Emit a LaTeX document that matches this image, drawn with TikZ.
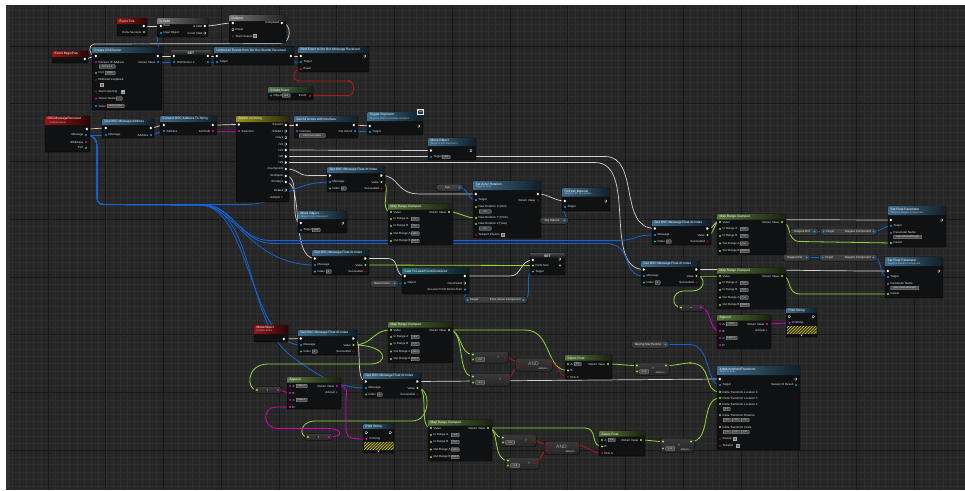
\documentclass[tikz,border=0pt]{standalone}
\usepackage{fontspec}
\setmainfont{Liberation Sans}
\pgfdeclarelayer{bglayer}
\pgfdeclarelayer{wirelayer}
\pgfsetlayers{bglayer,wirelayer,main}
\definecolor{bgc}{RGB}{38,38,38}
\definecolor{gminor}{RGB}{46,46,46}
\definecolor{gmajor}{RGB}{25,25,25}
\definecolor{gstrip}{RGB}{48,48,48}
\definecolor{nodebg}{RGB}{16,17,18}
\definecolor{hblue}{RGB}{62,108,140}
\definecolor{hred}{RGB}{150,22,22}
\definecolor{hgreen}{RGB}{88,120,58}
\definecolor{hgrey}{RGB}{120,120,120}
\definecolor{hyel}{RGB}{150,148,30}
\definecolor{hteal}{RGB}{40,110,120}
\definecolor{hcev}{RGB}{85,120,80}
\definecolor{pblue}{RGB}{0,165,240}
\definecolor{pgreen}{RGB}{155,230,55}
\definecolor{pmag}{RGB}{245,0,205}
\definecolor{pred}{RGB}{175,10,10}
\definecolor{pteal}{RGB}{30,220,170}
\definecolor{ppur}{RGB}{150,90,230}
\definecolor{prot}{RGB}{160,175,255}
\definecolor{pvec}{RGB}{250,200,40}
\definecolor{wexec}{RGB}{210,210,210}
\definecolor{wblue}{RGB}{20,100,215}
\definecolor{wgreen}{RGB}{150,215,55}
\definecolor{wmag}{RGB}{220,0,190}
\definecolor{wred}{RGB}{175,25,25}
\definecolor{txtc}{RGB}{228,228,228}
\definecolor{subc}{RGB}{170,200,220}
\definecolor{hatchy}{RGB}{200,190,30}
\tikzset{
 bpbody/.style={draw=black,fill=nodebg,rounded corners=1.2pt,inner sep=0pt,outer sep=0pt,anchor=north west,line width=0.3pt},
 bptitle/.style={anchor=west,inner sep=0pt,text=white,font=\fontsize{3.2}{3.6}\selectfont},
 bpsub/.style={anchor=west,inner sep=0pt,text=subc,font=\fontsize{2.5}{3}\selectfont},
 ptxt/.style={inner sep=0pt,text=txtc,font=\fontsize{2.9}{3.4}\selectfont},
 valb/.style={draw=gray!60,fill=black!70,inner sep=0.3pt,minimum height=3.4pt,text=txtc,font=\fontsize{2.4}{2.8}\selectfont,rounded corners=0.4pt,line width=0.25pt},
 bpvarst/.style={draw=black,top color=gray!55!black,bottom color=black!80,rounded corners=2.5pt,inner sep=0pt,anchor=north west,minimum height=7pt,line width=0.3pt},
 bpcomp/.style={draw=black,top color=gray!45!black,bottom color=black!85,rounded corners=1.5pt,inner sep=0pt,anchor=north west,line width=0.3pt},
 wx/.style={draw=wexec,line width=0.7pt},
 wb/.style={draw=wblue,line width=0.8pt},
 wg/.style={draw=wgreen,line width=0.8pt},
 wm/.style={draw=wmag,line width=0.8pt},
 wr/.style={draw=wred,line width=0.8pt},
}
% ---------- pin and label helpers
\newcommand\ex[3]{\coordinate (#1) at (#2,#3);\fill[white,shift={(#2,#3)}] (-1.1,-1.2) -- (0.1,-1.2) -- (1.1,0) -- (0.1,1.2) -- (-1.1,1.2) -- cycle;}
\newcommand\exo[3]{\coordinate (#1) at (#2,#3);\draw[white,line width=0.3pt,shift={(#2,#3)}] (-1,-1.1) -- (0.1,-1.1) -- (1,0) -- (0.1,1.1) -- (-1,1.1) -- cycle;}
\newcommand\dpin[4]{\coordinate (#1) at (#2,#3);\fill[#4] (#2,#3) circle (1.05pt);}
\newcommand\dpino[4]{\coordinate (#1) at (#2,#3);\draw[#4,line width=0.35pt] (#2,#3) circle (0.85pt);}
\newcommand\sqpin[4]{\coordinate (#1) at (#2,#3);\fill[#4] (#2-1,#3-1) rectangle (#2+1,#3+1);}
\newcommand\lbl[3]{\node[ptxt,anchor=west] at (#1,#2) {#3};}
\newcommand\lblr[3]{\node[ptxt,anchor=east] at (#1,#2) {#3};}
\newcommand\valbox[4]{\node[valb,anchor=west,minimum width=#3pt] at (#1,#2) {#4};}
\newcommand\chk[2]{\draw[gray!70,fill=black!60,line width=0.3pt] (#1-1.4,#2-1.4) rectangle (#1+1.4,#2+1.4);}
\newcommand\chkd[2]{\chk{#1}{#2}\draw[white,line width=0.35pt] (#1-0.8,#2) -- (#1-0.2,#2+0.7) -- (#1+0.9,#2-0.8);}
\newcommand\bpsubt[3]{\node[bpsub] at (#1,#2) {#3};}
% ---------- node helpers
\newcommand\bpn[8]{%
 \node[bpbody,minimum width=#4pt,minimum height=#5pt] (#1) at (#2,#3) {};
 \shade[left color=#6,right color=#6!28!black,rounded corners=1.2pt] (#2,#3+#8) -- (#2,#3) -- (#2+#4,#3) -- (#2+#4,#3+#8);
 \node[bptitle] at (#2+2.5,#3+3.1) {#7};}
\newcommand\setn[5]{%
 \node[bpbody,minimum width=#4pt,minimum height=#5pt] (#1) at (#2,#3) {};
 \shade[top color=gray!60!black,bottom color=nodebg,rounded corners=1.2pt] (#2,#3+5) -- (#2,#3) -- (#2+#4,#3) -- (#2+#4,#3+5);
 \node[ptxt,font=\fontsize{3.4}{4}\bfseries\selectfont] at (#2+#4/2,#3+3) {SET};}
\newcommand\bpvar[6]{%
 \node[bpvarst,minimum width=#4pt] (#1) at (#2,#3) {};
 \node[ptxt] at (#2+#4/2-2,#3+3.5) {#5};
 \dpin{#1o}{#2+#4-3.5}{#3+3.5}{#6}}
\newcommand\bpget[5]{%
 \node[bpvarst,minimum width=#4pt] (#1) at (#2,#3) {};
 \dpin{#1i}{#2+3.5}{#3+3.5}{pblue}\lbl{#2+6}{#3+3.5}{Target}
 \lblr{#2+#4-6}{#3+3.5}{#5}
 \dpin{#1o}{#2+#4-3.5}{#3+3.5}{pblue}}
\newcommand\getf[5]{%
 \bpn{#1}{#2}{#3}{#4}{25}{hblue}{Get OSC Message Float At Index}{6}
 \ex{#1in}{#2+3}{#3+8.5}\ex{#1out}{#2+#4-3.5}{#3+8.5}
 \dpin{#1msg}{#2+3}{#3+15}{pblue}\lbl{#2+5.5}{#3+15}{Message}
 \dpino{#1idx}{#2+3}{#3+21.5}{pteal}\lbl{#2+5.5}{#3+21.5}{Index}\valbox{#2+14}{#3+21.5}{5}{#5}
 \dpin{#1val}{#2+#4-3.5}{#3+15}{pgreen}\lblr{#2+#4-6}{#3+15}{Value}
 \dpino{#1ok}{#2+#4-3.5}{#3+21.5}{pred}\lblr{#2+#4-6}{#3+21.5}{Succeeded}}
\newcommand\mapr[8]{%
 \bpn{#1}{#2}{#3}{#4}{41}{hgreen}{Map Range Clamped}{5.5}
 \dpin{#1v}{#2+3}{#3+8}{pgreen}\lbl{#2+5.5}{#3+8}{Value}
 \dpino{#1a}{#2+3}{#3+15}{pgreen}\lbl{#2+5.5}{#3+15}{In Range A}\valbox{#2+23}{#3+15}{8}{#5}
 \dpino{#1b}{#2+3}{#3+22}{pgreen}\lbl{#2+5.5}{#3+22}{In Range B}\valbox{#2+23}{#3+22}{8}{#6}
 \dpino{#1c}{#2+3}{#3+29.5}{pgreen}\lbl{#2+5.5}{#3+29.5}{Out Range A}\valbox{#2+23}{#3+29.5}{8}{#7}
 \dpino{#1d}{#2+3}{#3+37}{pgreen}\lbl{#2+5.5}{#3+37}{Out Range B}\valbox{#2+23}{#3+37}{8}{#8}
 \dpin{#1r}{#2+#4-4}{#3+8}{pgreen}\lblr{#2+#4-6.5}{#3+8}{Return Value}}
\newcommand\setfp[5]{%
 \bpn{#1}{#2}{#3}{#4}{41}{hblue}{Set Float Parameter}{9}
 \bpsubt{#2+2.5}{#3+6.8}{Target is Niagara Component}
 \ex{#1in}{#2+3}{#3+14}\exo{#1out}{#2+#4-4}{#3+14}
 \dpin{#1tgt}{#2+3}{#3+20}{pblue}\lbl{#2+5.5}{#3+20}{Target}
 \dpino{#1pn}{#2+3}{#3+27}{ppur}\lbl{#2+5.5}{#3+26.5}{Parameter Name}\valbox{#2+5.5}{#3+31}{28}{#5}
 \dpin{#1par}{#2+3}{#3+37}{pgreen}\lbl{#2+5.5}{#3+37}{Param}}
\newcommand\hatchbar[4]{%
 \begin{scope}
 \clip (#1,#2) rectangle (#1+#3,#2+#4);
 \fill[hatchy] (#1,#2) rectangle (#1+#3,#2+#4);
 \foreach \k in {0,...,15}{\fill[black!85] (#1-#4+\k*3,#2+#4) -- ++(1.5,0) -- ++(#4,-#4) -- ++(-1.5,0) -- cycle;}
 \end{scope}}
\newcommand\printstr[4]{%
 \bpn{#1}{#2}{#3}{#4}{29}{hblue}{Print String}{5}
 \exo{#1in}{#2+3.5}{#3+8.5}\exo{#1out}{#2+#4-3.5}{#3+8.5}
 \dpin{#1s}{#2+3.5}{#3+15}{pmag}\lbl{#2+6}{#3+15}{In String}
 \hatchbar{#2+0.5}{#3+18}{#4-1}{8}
 \fill[white] (#2+#4/2-1,#3+26.6) -- (#2+#4/2+1,#3+26.6) -- (#2+#4/2,#3+28.2) -- cycle;}
\newcommand\appendn[6]{%
 \bpn{#1}{#2}{#3}{#4}{#5}{hgreen}{Append}{5.5}
 \dpino{#1a}{#2+3}{#3+9}{pmag}\lbl{#2+5.5}{#3+9}{A}\valbox{#2+9}{#3+9}{11}{#6}
 \dpin{#1b}{#2+3}{#3+16}{pmag}\lbl{#2+5.5}{#3+16}{B}
 \dpino{#1c}{#2+3}{#3+23}{pmag}\lbl{#2+5.5}{#3+23}{C}\valbox{#2+9}{#3+23}{11}{Index 1}
 \dpino{#1d}{#2+3}{#3+30}{pmag}\lbl{#2+5.5}{#3+30}{D}
 \dpin{#1r}{#2+#4-4}{#3+9}{pmag}\lblr{#2+#4-6.5}{#3+9}{Return Value}
 \lblr{#2+#4-3}{#3+16}{Add pin +}}
\newcommand\convn[4]{%
 \node[bpcomp,minimum width=#4pt,minimum height=7pt] (#1) at (#2,#3) {};
 \dpin{#1i}{#2+3}{#3+3.5}{pgreen}\dpin{#1o}{#2+#4-3}{#3+3.5}{pmag}
 \fill[gray!70] (#2+#4/2,#3+3.5) circle (0.7pt);}
\newcommand\cmpn[7]{%
 \node[bpcomp,minimum width=#4pt,minimum height=#5pt] (#1) at (#2,#3) {};
 \dpin{#1a}{#2+3}{#3+3.5}{pgreen}
 \dpino{#1b}{#2+3}{#3+#5-3.5}{pgreen}\valbox{#2+5.5}{#3+#5-3.5}{9}{#6}
 \node[ptxt,text=gray!75,font=\fontsize{4}{4}\selectfont] at (#2+#4-10,#3+#5/2) {#7};
 \dpin{#1o}{#2+#4-3.5}{#3+#5/2}{pred}}
\newcommand\andn[5]{%
 \node[bpcomp,minimum width=#4pt,minimum height=#5pt] (#1) at (#2,#3) {};
 \dpin{#1a}{#2+3}{#3+3.5}{pred}\dpin{#1b}{#2+3}{#3+#5-3.5}{pred}
 \node[ptxt,text=gray!80,font=\fontsize{5}{5}\selectfont] at (#2+#4/2,#3+#5/2-1) {AND};
 \node[ptxt,anchor=east,font=\fontsize{2.4}{3}\selectfont] at (#2+#4-3,#3+#5-2.3) {Add pin +};
 \dpin{#1o}{#2+#4-3}{#3+4}{pred}}
\newcommand\muln[6]{%
 \node[bpcomp,minimum width=#4pt,minimum height=#5pt] (#1) at (#2,#3) {};
 \dpin{#1a}{#2+3}{#3+3.5}{pgreen}
 \dpino{#1b}{#2+3}{#3+#5-3.5}{pgreen}\valbox{#2+5.5}{#3+#5-3.5}{9}{#6}
 \node[ptxt,text=gray!75,font=\fontsize{4}{4}\selectfont] at (#2+19,#3+#5/2) {×};
 \node[ptxt,anchor=east,font=\fontsize{2.4}{3}\selectfont] at (#2+#4-3,#3+#5-2.3) {Add pin +};
 \dpin{#1o}{#2+#4-3}{#3+3.5}{pgreen}}
\newcommand\seln[5]{%
 \bpn{#1}{#2}{#3}{#4}{#5}{hgreen}{Select Float}{5.5}
 \dpino{#1a}{#2+3}{#3+9}{pgreen}\lbl{#2+5.5}{#3+9}{A}\valbox{#2+9}{#3+9}{7}{0.0}
 \dpin{#1b}{#2+3}{#3+15.5}{pgreen}\lbl{#2+5.5}{#3+15.5}{B}
 \dpin{#1p}{#2+3}{#3+22}{pred}\lbl{#2+5.5}{#3+22}{Pick A}
 \dpin{#1r}{#2+#4-4}{#3+9}{pgreen}\lblr{#2+#4-6.5}{#3+9}{Return Value}}
\begin{document}
\begin{tikzpicture}[x=1pt,y=-1pt]
\useasboundingbox (0,0) rectangle (965,490);
\begin{pgfonlayer}{bglayer}
 \fill[white] (0,0) rectangle (965,490);
 \fill[bgc] (6,5) rectangle (965,490);
 \begin{scope}
 \clip (10,5) rectangle (965,490);
 \foreach \i in {0,...,133} \draw[gminor,line width=0.4pt] (4.6875+\i*7.21875,0) -- ++(0,490);
 \foreach \j in {0,...,68} \draw[gminor,line width=0.4pt] (0,2.6875+\j*7.21875) -- ++(965,0);
 \foreach \i in {0,...,17} \draw[gmajor,line width=0.6pt] (-9.75+\i*57.75,0) -- ++(0,490);
 \foreach \j in {0,...,9} \draw[gmajor,line width=0.6pt] (0,-11.75+\j*57.75) -- ++(965,0);
 \draw[black!92,line width=0.7pt] (0,46) -- (965,46);
 \end{scope}
 \fill[gstrip] (6,5) rectangle (10,490);
\end{pgfonlayer}

% ================= NODES =================
% Event Tick
\bpn{tick}{117}{18}{30}{18}{hred}{Event Tick}{6}
\ex{tickx}{144}{26}
\dpino{tickd}{144}{32}{pgreen}\lblr{141.5}{32}{Delta Seconds}
% Is Valid
\bpn{isvalid}{157}{18}{51}{19}{hgrey}{Is Valid}{6}
\ex{ivin}{161}{26}\lbl{163.5}{26}{Exec}
\dpin{ivobj}{161}{33}{pblue}\lbl{163.5}{33}{Input Object}
\ex{ivok}{205}{26}\lblr{202.5}{26}{Is Valid}
\exo{ivno}{205}{33}\lblr{202.5}{33}{Is Not Valid}
% DoOnce
\bpn{doonce}{229}{15}{57}{28}{hgrey}{DoOnce}{6}
\ex{doin}{233}{23}
\exo{doreset}{233}{29.5}\lbl{235.5}{29.5}{Reset}
\dpino{dostart}{233}{36}{pred}\lbl{235.5}{36}{Start Closed}\chk{255}{36}
\ex{doout}{282}{23}\lblr{279.5}{23}{Completed}
% Event BeginPlay
\bpn{beginplay}{52}{51}{36}{12}{hred}{Event BeginPlay}{6}
\ex{bpx}{85}{59}
% Create OSCServer
\bpn{create}{92}{47}{70}{63}{hblue}{Create OSCServer}{6}
\ex{crin}{96}{56}\ex{crout}{158}{56}
\dpin{crret}{158}{62}{pblue}\lblr{155.5}{62}{Return Value}
\dpino{crip}{96}{62}{pmag}\lbl{98.5}{62}{Receive IP Address}\valbox{99}{66.5}{16}{127.0.0.1}
\dpino{crport}{96}{73}{pteal}\lbl{98.5}{73}{Port}\valbox{105}{73}{10}{8000}
\dpino{crmc}{96}{80}{pred}\lbl{98.5}{80}{Multicast Loopback}\chk{101.5}{85}
\dpino{crsl}{96}{91.5}{pred}\lbl{98.5}{91.5}{Start Listening}\chkd{123}{91.5}
\dpino{crsn}{96}{98.5}{pmag}\lbl{98.5}{98.5}{Server Name}\valbox{116}{98.5}{6}{}
\dpino{crouter}{96}{106}{pblue}\lbl{98.5}{106}{Outer}\valbox{107}{106}{17}{Select Asset}
% SET OSCServer
\setn{setsrv}{171}{50}{40}{16}
\ex{setin}{174}{56}\ex{setout}{208}{56}
\dpin{setv}{174}{62}{pblue}\lbl{177}{62}{OSCServer 2}\dpin{setvo}{208}{62}{pblue}
% Unbind
\bpn{unbind}{214}{47}{80}{18}{hblue}{Unbind all Events from On Osc Bundle Received}{6}
\ex{unin}{217}{56}\ex{unout}{291}{56}
\dpin{untgt}{217}{62}{pblue}\lbl{219.5}{62}{Target}
% Bind
\bpn{bind}{298}{47}{71}{25}{hblue}{Bind Event to On Osc Message Received}{6}
\ex{bdin}{301}{56}\exo{bdout}{365}{56}
\dpin{bdtgt}{301}{62}{pblue}\lbl{303.5}{62}{Target}
\sqpin{bdev}{301}{69}{pred}\lbl{303.5}{69}{Event}
% Create Event
\bpn{cev}{268}{87}{45}{13}{hcev}{Create Event}{5.5}
\dpino{cevobj}{271}{95.5}{pblue}\lbl{273.5}{95.5}{Object}\valbox{282}{95.5}{8}{self}
\lblr{306.5}{95.5}{Event}\sqpin{cevev}{310}{95.5}{pred}
% OSCMessageReceived
\bpn{oscmsg}{45}{116}{45}{36}{hred}{OSCMessageReceived}{9}
\bpsubt{50}{122.5}{Custom Event}
\ex{omx}{87}{129}
\dpin{ommsg}{86}{135}{pblue}\lblr{83.5}{135}{Message}
\dpino{omip}{86}{142}{pmag}\lblr{83.5}{142}{IPAddress}
\dpino{omport}{86}{148}{pteal}\lblr{83.5}{148}{Port}
% Get OSC Message Address
\bpn{getaddr}{102}{119}{52}{19}{hblue}{Get OSC Message Address}{6}
\ex{gain}{106}{128}\ex{gaout}{151}{128}
\dpin{gamsg}{106}{135}{pblue}\lbl{108.5}{135}{Message}
\dpin{gaaddr}{151}{135}{pblue}\lblr{148.5}{135}{Address}
% Convert
\bpn{conv}{160}{116}{57}{19}{hblue}{Convert OSC Address To String}{6}
\ex{cvin}{164}{125}\ex{cvout}{213}{125}
\dpin{cvaddr}{164}{131}{pblue}\lbl{166.5}{131}{Address}
\dpin{cvfp}{213}{131}{pmag}\lblr{210.5}{131}{Full Path}
% Switch on String
\bpn{sw}{236}{116}{53}{86}{hyel}{Switch on String}{6}
\ex{swin}{239}{124.5}\dpin{swsel}{239}{131}{pmag}\lbl{241.5}{131}{Selection}
\ex{sw1}{286}{125}\lblr{283.5}{125}{/1/push1}
\exo{sw2}{286}{131}\lblr{283.5}{131}{/1/fader1}
\exo{sw3}{286}{137.5}\lblr{283.5}{137.5}{/1/xy1}
\exo{sw4}{286}{144}\lblr{283.5}{144}{/1/z}
\ex{sw5}{286}{150}\lblr{283.5}{150}{/1/1}
\ex{sw6}{286}{156.5}\lblr{283.5}{156.5}{/1/8}
\ex{sw7}{286}{162.5}\lblr{283.5}{162.5}{/1/9}
\ex{sw8}{286}{169}\lblr{283.5}{169}{/touchpoints}
\ex{sw9}{286}{176}\lblr{283.5}{176}{/multipush}
\ex{sw10}{286}{182}\lblr{283.5}{182}{/1/rotary1}
\exo{swdef}{286}{190}\lblr{283.5}{190}{Default}
\lblr{283}{198}{Add pin +}
% Get All Actors with Interface
\bpn{getall}{294}{116}{64}{22}{hblue}{Get All Actors with Interface}{6}
\ex{gaain}{297}{125}\ex{gaaout}{354}{125}
\dpino{gaaif}{297}{131}{ppur}\lbl{299.5}{131}{Interface}\valbox{299}{135.5}{26}{OSCControllable}
\dpin{gaaarr}{355}{131}{pblue}\lblr{352.5}{131}{Out Actors}
% Trigger Explosion
\bpn{trig}{367}{112}{56}{23}{hblue}{Trigger Explosion}{9}
\bpsubt{369.5}{118.6}{Target is OSCControllable Interface}
\ex{trin}{370}{126}\exo{trout}{419}{126}
\dpin{trtgt}{370}{132}{pblue}\lbl{372.5}{132}{Target}
\draw[white!85!hblue,fill=hblue!50!black,line width=0.3pt] (417.5,109.5) rectangle (423.5,114);
\draw[white!85!hblue,line width=0.3pt] (417.5,109.5) -- (420.5,112) -- (423.5,109.5);
% Move Object 1
\bpn{mv1}{428}{138}{48}{22}{hblue}{Move Object}{8}
\bpsubt{430.5}{143.8}{Target is Osc Receiver 2}
\ex{mv1in}{431}{150.5}\exo{mv1out}{471}{150.5}
\dpino{mv1t}{431}{157}{pblue}\lbl{433.5}{157}{Target}\valbox{442}{157}{8}{self}
% Get OSC Float 1
\getf{gf1}{327}{167}{58}{0}
% Move Object 2
\bpn{mv2}{298}{211}{49}{22}{hblue}{Move Object}{8}
\bpsubt{300.5}{216.8}{Target is Osc Receiver 2}
\ex{mv2in}{301}{223}\exo{mv2out}{343}{223}
\dpino{mv2t}{301}{230}{pblue}\lbl{303.5}{230}{Target}\valbox{312}{230}{8}{self}
% Map Range 1
\mapr{mr1}{388}{204}{65}{0.0}{1.0}{-180.0}{180.0}
% Sun
\bpvar{sun}{436}{184}{27}{Sun}{pblue}
% Set Actor Rotation
\bpn{setrot}{473}{181}{68}{57}{hblue}{Set Actor Rotation}{9}
\bpsubt{475.5}{186.8}{Target is Actor}
\ex{srin}{476}{194}\ex{srout}{538}{194}
\dpino{srret}{538}{200}{pred}\lblr{535.5}{200}{Return Value}
\dpin{srtgt}{476}{200}{pblue}\lbl{478.5}{200}{Target}
\dpino{srx}{476}{207}{pgreen}\lbl{478.5}{207}{New Rotation X (Roll)}\valbox{479}{211.5}{12}{0.0}
\dpin{sry}{476}{218}{pgreen}\lbl{478.5}{218}{New Rotation Y (Pitch)}
\dpino{srz}{476}{224}{pgreen}\lbl{478.5}{224}{New Rotation Z (Yaw)}\valbox{479}{228.5}{12}{0.0}
\dpino{srtp}{476}{235}{pred}\lbl{478.5}{235}{Teleport Physics}\chk{503}{235}
% Refresh Material
\bpn{refresh}{562}{188}{48}{23}{hblue}{Refresh Material}{8.5}
\bpsubt{564.5}{193.8}{Target is BP Sky Sphere}
\ex{rfin}{565}{201}\exo{rfout}{606}{201}
\dpin{rftgt}{565}{207}{pblue}\lbl{567.5}{207}{Target}
% Sky Sphere
\bpvar{sky}{540}{217}{28}{Sky Sphere}{pblue}
% Get OSC Float 2
\getf{gf2}{312}{250}{57}{0}
% Base Points
\bpvar{basep}{370}{280}{28}{Base Points}{pblue}
% Cast
\bpn{cast}{402}{268}{67}{26}{hteal}{Cast To LaserPointGhostActor}{6}
\ex{csin}{405}{276}\ex{csout}{465}{276}
\dpin{csobj}{405}{283}{pblue}\lbl{407.5}{283}{Object}
\exo{csfail}{465}{283}\lblr{462.5}{283}{Cast Failed}
\dpin{csas}{465}{289.5}{pblue}\lblr{462.5}{289.5}{As Laser Point Ghost Actor}
% Point Ghost Component getter
\bpget{ghost}{464}{296.5}{63}{Point Ghost Component}
% SET Point Size
\setn{setps}{530}{253}{35}{22}
\ex{spin}{533}{260}\exo{spout}{560}{259}
\dpin{spps}{533}{265.5}{pgreen}\lbl{535.5}{265.5}{Point Size}
\dpin{sptgt}{533}{271.5}{pblue}\lbl{535.5}{271.5}{Target}
\dpino{spv}{560}{265.5}{pgreen}
% Get OSC Float 3 & 4
\getf{gf3}{652}{220}{59}{0}
\getf{gf4}{641}{261}{59}{0}
% Map Range 2 & 3
\mapr{mr2}{717}{214}{69}{0.0}{1.0}{0.0}{10000.0}
\mapr{mr3}{717}{268}{69}{0.0}{1.0}{0.0}{10000.0}
% Niagara refs and components
\bpvar{nia1}{790}{228}{28}{Niagara Ref}{pblue}
\bpget{ncomp1}{820}{228}{57}{Niagara Component}
\bpvar{nia2}{783}{254}{27}{Niagara Ref}{pblue}
\bpget{ncomp2}{819}{254}{58}{Niagara Component}
% Set Float Parameter 1 & 2
\setfp{sfp1}{888}{206}{58}{User.VolumeStrength}
\setfp{sfp2}{885}{257}{58}{User.VolumeStrength}
% Conversion (right)
\convn{cvR}{678}{304}{26}
% Print String (right)
\printstr{prR}{786}{308}{31}
% Append (right)
\appendn{apR}{717}{315}{54}{34}{XYZ}
% Moving Star Particle
\bpvar{mstar}{631}{341}{38}{Moving Star Particle}{pblue}
% AddActorWorldTransform
\bpn{addwt}{717}{366}{83}{84}{hblue}{AddActorWorldTransform}{9}
\bpsubt{719.5}{371.8}{Target is Actor}
\ex{awin}{720}{379}\exo{awout}{796}{379}
\dpin{awtgt}{720}{385}{pblue}\lbl{722.5}{385}{Target}
\dpino{awhit}{796}{385}{pblue}\lblr{793.5}{385}{Sweep Hit Result}
\dpin{awlx}{720}{392}{pgreen}\lbl{722.5}{392}{Delta Transform Location X}
\dpin{awly}{720}{398}{pgreen}\lbl{722.5}{398}{Delta Transform Location Y}
\dpino{awlz}{720}{404}{pgreen}\lbl{722.5}{404}{Delta Transform Location Z}\valbox{723}{409}{7}{0.0}
\dpino{awrot}{720}{415}{prot}\lbl{722.5}{415}{Delta Transform Rotation}
\valbox{723}{420}{8}{0.0}\valbox{732}{420}{8}{0.0}\valbox{741}{420}{8}{0.0}
\dpino{awsc}{720}{427}{pvec}\lbl{722.5}{427}{Delta Transform Scale}
\valbox{723}{432}{8}{1.0}\valbox{732}{432}{8}{1.0}\valbox{741}{432}{8}{1.0}
\dpino{awsw}{720}{439}{pred}\lbl{722.5}{439}{Sweep}\chk{735}{439}
\dpino{awtp}{720}{446}{pred}\lbl{722.5}{446}{Teleport}\chk{738}{446}
% MoveObject custom event
\bpn{mvevt}{254}{325}{34}{17}{hred}{MoveObject}{9}
\bpsubt{256.5}{331}{Custom Event}
\ex{meout}{284}{339}
% Get OSC Float 5 & 6
\getf{gf5}{298}{330}{59}{0}
\getf{gf6}{363}{373}{58}{1}
% Map Range 4 & 5
\mapr{mr4}{388}{322}{65}{-1.0}{1.0}{-100.0}{100.0}
\mapr{mr5}{428}{420}{64}{-1.0}{1.0}{-100.0}{100.0}
% Append (left)
\appendn{apL}{287}{377}{54}{32}{Index 0}
\fill[pmag] (apLd) circle (1.05pt);
% Conversions (left)
\convn{cvL1}{254}{386.5}{27}
\convn{cvL2}{305}{433.5}{27}
% Print String (left)
\printstr{prL}{363}{424}{31}
% Compare nodes, AND, Select, Multiply
\cmpn{cmp1}{470}{351}{38}{12}{0.5}{>}
\cmpn{cmp2}{470}{373}{40}{13}{-0.5}{<}
\andn{and1}{515}{358}{37}{13}
\seln{sel1}{565}{355}{47}{24}
\muln{mul1}{634}{362}{35}{13}{0.02}
\cmpn{cmp3}{500}{434}{36}{12}{0.5}{>}
\cmpn{cmp4}{505}{457}{34}{12}{-0.5}{<}
\andn{and2}{544}{441}{35}{13}
\seln{sel2}{599}{431}{46}{25}
\muln{mul2}{660}{438}{34}{14}{0.02}

% ================= WIRES =================
\begin{pgfonlayer}{wirelayer}
% exec
\draw[wx] (tickx) -- (ivin);
\draw[wx] (ivok) to[out=0,in=180] (doin);
\draw[wx] (doout) .. controls (292,23) and (292,43.5) .. (280,43.5) -- (94,44) .. controls (88,44) and (88,56) .. (crin);
\draw[wx] (bpx) to[out=0,in=180] (crin);
\draw[wx] (crout) -- (setin);
\draw[wx] (setout) -- (unin);
\draw[wx] (unout) -- (bdin);
\draw[wx] (omx) to[out=0,in=180] (gain);
\draw[wx] (gaout) to[out=0,in=180] (cvin);
\draw[wx] (cvout) to[out=0,in=180] (swin);
\draw[wx] (sw1) -- (gaain);
\draw[wx] (gaaout) -- (trin);
\draw[wx] (sw5) -- (mv1in);
\draw[wx] (sw6) -- (605,156.5) .. controls (640,156.5) and (618,228.5) .. (gf3in);
\draw[wx] (sw7) -- (595,162.5) .. controls (638,162.5) and (602,269.5) .. (gf4in);
\draw[wx] (sw8) .. controls (300,169) and (296,175.5) .. (310,175.5) -- (gf1in);
\draw[wx] (sw9) .. controls (302,176) and (288,223) .. (mv2in);
\draw[wx] (sw10) .. controls (304,182) and (290,258.5) .. (gf2in);
\draw[wx] (gf1out) .. controls (400,175.5) and (395,194) .. (420,194) -- (srin);
\draw[wx] (srout) to[out=0,in=180] (rfin);
\draw[wx] (gf2out) -- (388,258.5) .. controls (400,258.5) and (394,276) .. (csin);
\draw[wx] (csout) -- (510,276) .. controls (522,276) and (520,260) .. (spin);
\draw[wx] (gf3out) .. controls (716,228.5) and (712,219.5) .. (725,219.5) -- (sfp1in);
\draw[wx] (gf4out) to[out=0,in=180] (sfp2in);
\draw[wx] (meout) -- (gf5in);
\draw[wx] (gf5out) .. controls (364,338.5) and (354,381.5) .. (gf6in);
\draw[wx] (gf6out) -- (awin);
% blue
\draw[wb] (crret) -- (setv);
\draw[wb] (crret) .. controls (168,62) and (150,33) .. (ivobj);
\draw[wb] (setvo) -- (untgt);
\draw[wb] (setvo) -- (bdtgt);
\draw[wb] (gaaddr) to[out=0,in=180] (cvaddr);
\draw[wb] (gaaarr) -- (trtgt);
\draw[wb] (ommsg) -- (gamsg);
\draw[wb] (ommsg) .. controls (95,135) and (97,140) .. (97,150) -- (97,196) .. controls (97,204.5) and (100,204.5) .. (108,204.5) -- (245,204.5) .. controls (280,204.5) and (290,182) .. (gf1msg);
\draw[wb] (ommsg) .. controls (95,135) and (97,140) .. (97,150) -- (97,196) .. controls (97,204.5) and (100,204.5) .. (108,204.5) -- (200,205) .. controls (235,205) and (250,265) .. (gf2msg);
\draw[wb] (ommsg) .. controls (95,135) and (97,140) .. (97,150) -- (97,196) .. controls (97,204.5) and (100,204.5) .. (108,204.5) -- (205,205) .. controls (230,205) and (240,240.5) .. (270,240.5) -- (615,240.5) .. controls (640,240.5) and (630,235) .. (gf3msg);
\draw[wb] (ommsg) .. controls (95,135) and (97,140) .. (97,150) -- (97,196) .. controls (97,204.5) and (100,204.5) .. (108,204.5) -- (205,205) .. controls (232,205) and (242,243.5) .. (272,243.5) -- (605,243.5) .. controls (635,243.5) and (620,276) .. (gf4msg);
\draw[wb] (ommsg) .. controls (95,135) and (97,140) .. (97,150) -- (97,196) .. controls (97,204.5) and (100,204.5) .. (108,204.5) -- (200,205) .. controls (250,205) and (250,345) .. (gf5msg);
\draw[wb] (ommsg) .. controls (95,135) and (97,140) .. (97,150) -- (97,196) .. controls (97,204.5) and (100,204.5) .. (108,204.5) -- (200,205) .. controls (255,205) and (245,320) .. (290,355) .. controls (320,378) and (340,388) .. (gf6msg);
\draw[wb] (suno) to[out=0,in=180] (srtgt);
\draw[wb] (skyo) .. controls (572,220.5) and (558,207) .. (rftgt);
\draw[wb] (basepo) -- (csobj);
\draw[wb] (csas) .. controls (473,289.5) and (458,300) .. (ghosti);
\draw[wb] (ghosto) .. controls (534,300) and (523,271.5) .. (sptgt);
\draw[wb] (nia1o) -- (ncomp1i);
\draw[wb] (ncomp1o) to[out=0,in=180] (sfp1tgt);
\draw[wb] (nia2o) -- (ncomp2i);
\draw[wb] (ncomp2o) to[out=0,in=180] (sfp2tgt);
\draw[wb] (mstaro) -- (689,344.5) .. controls (712,344.5) and (705,385) .. (awtgt);
% green
\draw[wg] (gf1val) .. controls (393,182) and (378,212) .. (mr1v);
\draw[wg] (mr1r) to[out=0,in=180] (sry);
\draw[wg] (gf2val) -- (spps);
\draw[wg] (gf3val) to[out=0,in=180] (mr2v);
\draw[wg] (gf4val) to[out=0,in=180] (mr3v);
\draw[wg] (gf4val) .. controls (706,276) and (706,291) .. (692,291) -- (684,291) .. controls (671,291) and (671,307.5) .. (cvRi);
\draw[wg] (mr2r) .. controls (792,222) and (786,241.5) .. (800,241.5) -- (sfp1par);
\draw[wg] (mr3r) .. controls (792,276) and (786,294) .. (800,294) -- (sfp2par);
\draw[wg] (gf5val) .. controls (373,345) and (372,330) .. (mr4v);
\draw[wg] (gf5val) .. controls (389,345) and (389,364) .. (370,364) -- (268,364) .. controls (246,364) and (246,390) .. (cvL1i);
\draw[wg] (gf6val) .. controls (430,388) and (418,428) .. (mr5v);
\draw[wg] (gf6val) .. controls (431,388) and (431,421) .. (412,421) -- (315,421) .. controls (300,421) and (298,437) .. (cvL2i);
\draw[wg] (mr4r) -- (525,330) .. controls (552,330) and (545,370.5) .. (sel1b);
\draw[wg] (mr4r) .. controls (462,330) and (459,354.5) .. (cmp1a);
\draw[wg] (mr4r) .. controls (466,330) and (456,376.5) .. (cmp2a);
\draw[wg] (sel1r) to[out=0,in=180] (mul1a);
\draw[wg] (mul1o) .. controls (678,365.5) and (682,363) .. (690,363) .. controls (714,363) and (702,392) .. (awlx);
\draw[wg] (mul2o) .. controls (712,441.5) and (700,398) .. (awly);
\draw[wg] (mr5r) -- (585,428) .. controls (598,428) and (590,446.5) .. (sel2b);
\draw[wg] (mr5r) .. controls (497,428) and (493,437.5) .. (cmp3a);
\draw[wg] (mr5r) .. controls (500,428) and (492,460.5) .. (cmp4a);
\draw[wg] (sel2r) to[out=0,in=180] (mul2a);
% red
\draw[wr] (cevev) -- (349,95.5) .. controls (355,95.5) and (355,81) .. (349,81) -- (298,81) .. controls (292,81) and (292,69) .. (bdev);
\draw[wr] (cmp1o) to[out=0,in=180] (and1a);
\draw[wr] (cmp2o) to[out=0,in=180] (and1b);
\draw[wr] (and1o) to[out=0,in=180] (sel1p);
\draw[wr] (cmp3o) to[out=0,in=180] (and2a);
\draw[wr] (cmp4o) to[out=0,in=180] (and2b);
\draw[wr] (and2o) to[out=0,in=180] (sel2p);
% magenta
\draw[wm] (cvfp) to[out=0,in=180] (swsel);
\draw[wm] (cvRo) .. controls (712,307.5) and (708,331) .. (apRb);
\draw[wm] (apRr) to[out=0,in=180] (prRs);
\draw[wm] (cvL1o) to[out=0,in=180] (apLb);
\draw[wm] (cvL2o) .. controls (345,437) and (342,428.5) .. (328,428.5) -- (278,428.5) .. controls (262,428.5) and (262,407) .. (276,407) -- (apLd);
\draw[wm] (apLr) .. controls (350,386) and (346,392) .. (346,402) -- (346,428) .. controls (346,439) and (352,439) .. (prLs);
% reroute knots
\foreach \p in {(298,81),(349,81),(349,95.5)} \fill[wred] \p circle (1pt);
\foreach \p in {(106,204.5),(113,204.5),(175,204.5),(200,205),(207,205.5)} \fill[wblue] \p circle (1pt);
\fill[wgreen] (690,363) circle (1pt);
\end{pgfonlayer}
\end{tikzpicture}
\end{document}
